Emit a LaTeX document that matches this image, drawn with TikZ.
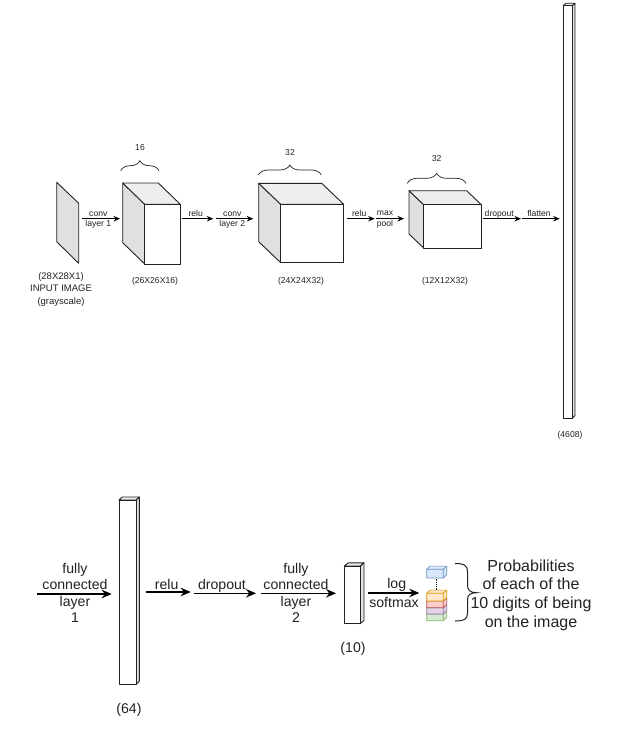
\documentclass[tikz,border=0pt]{standalone}
\usepackage{fontspec}
\setmainfont{Liberation Sans}
\usetikzlibrary{arrows.meta,decorations.pathreplacing}
\definecolor{sidegray}{HTML}{E0E0E0}
\definecolor{topgray}{HTML}{EEEEEE}
\definecolor{inkgray}{HTML}{222222}
\tikzset{
	smalllabel/.style={inner sep=0, align=center, text=inkgray, font=\fontsize{8.6}{10.5}\selectfont},
	inputlabel/.style={inner sep=0, align=center, text=inkgray, font=\fontsize{9.5}{12.5}\selectfont},
	biglabel/.style={inner sep=0, align=center, text=inkgray, font=\fontsize{14.1}{16}\selectfont},
	problabel/.style={inner sep=0, align=center, text=inkgray, font=\fontsize{16}{18.6}\selectfont},
	smallflow/.style={line width=0.9pt, -{Stealth[length=6.5pt,width=5.5pt]}},
	bigflow/.style={line width=1.3pt, -{Stealth[length=10pt,width=8.5pt]}},
	widthbrace/.style={line width=0.7pt, color=inkgray, decorate, decoration={brace,amplitude=10pt}},
	edge/.style={line width=0.9pt, line join=round, color=inkgray}
}
% front face top left (#1,#2), bottom right (#3,#4), back offset up left (#5,#6)
\def\layercube(#1,#2)(#3,#4)(#5,#6){
	\draw[edge, fill=sidegray] (#1,#2) -- (#1+#5,#2+#6) -- (#1+#5,#4+#6) -- (#1,#4) -- cycle;
	\draw[edge, fill=topgray] (#1,#2) -- (#1+#5,#2+#6) -- (#3+#5,#2+#6) -- (#3,#2) -- cycle;
	\draw[edge, fill=white] (#1,#2) rectangle (#3,#4);
}
% same for a bar, back offset up right
\def\layerbar(#1,#2)(#3,#4)(#5,#6){
	\draw[edge, fill=sidegray] (#3,#2) -- (#3+#5,#2+#6) -- (#3+#5,#4+#6) -- (#3,#4) -- cycle;
	\draw[edge, fill=topgray] (#1,#2) -- (#1+#5,#2+#6) -- (#3+#5,#2+#6) -- (#3,#2) -- cycle;
	\draw[edge, fill=white] (#1,#2) rectangle (#3,#4);
}
% one block of the softmax stack
\def\stackblock(#1,#2)#3#4{
	\draw[line width=0.7pt, line join=round, draw=#4, fill=#3] (426.7,#1) -- (430,#1-3.2) -- (446.7,#1-3.2) -- (446.7,#2-3.2) -- (443.3,#2) -- (426.7,#2) -- cycle;
	\draw[line width=0.7pt, draw=#4] (426.7,#1) -- (443.3,#1) -- (443.3,#2) (443.3,#1) -- (446.7,#1-3.2);
}
\definecolor{blockblue}{HTML}{DAE8FC}
\definecolor{lineblue}{HTML}{6C8EBF}
\definecolor{blockgreen}{HTML}{D5E8D4}
\definecolor{linegreen}{HTML}{82B366}
\definecolor{blockviolet}{HTML}{E1D5E7}
\definecolor{lineviolet}{HTML}{9673A6}
\definecolor{blockred}{HTML}{F8CECC}
\definecolor{linered}{HTML}{B85450}
\definecolor{blockorange}{HTML}{FFE6CC}
\definecolor{lineorange}{HTML}{D79B00}

\begin{document}
\begin{tikzpicture}[x=1pt, y=-1pt]
	\useasboundingbox (0,0) rectangle (626,733);
	\fill[white] (0,0) rectangle (626,733);

	%%%%% first row %%%%%
	\draw[edge, fill=sidegray] (56.7,182.3) -- (78.7,203.3) -- (78.7,263.3) -- (56.7,241.7) -- cycle;
	\layercube(144.7,204.3)(180.3,264)(-22,-21.3)
	\layercube(280.7,204.3)(343.7,262.7)(-22,-21)
	\layercube(423.7,204.7)(481.3,248)(-14.7,-14)
	\layerbar(563.3,5.7)(572.3,418)(2.7,-2.4)

	\draw[widthbrace] (120.7,170.7) -- (159,170.7);
	\draw[widthbrace] (258.3,175) -- (321.3,175);
	\draw[widthbrace] (407.3,183.3) -- (466,183.3);
	\node[smalllabel] (width1) at (140,148) {16};
	\node[smalllabel] (width2) at (290,152.3) {32};
	\node[smalllabel] (width3) at (436.7,159) {32};

	\coordinate (conv1a) at (81.7,218.7);
	\coordinate (conv1b) at (120,218.7);
	\coordinate (relu1a) at (182.3,218.7);
	\coordinate (relu1b) at (213.3,218.7);
	\coordinate (conv2a) at (215.7,218.7);
	\coordinate (conv2b) at (253.3,218.7);
	\coordinate (relu2a) at (347.3,218.7);
	\coordinate (relu2b) at (374.7,218.7);
	\coordinate (poola) at (376,218.7);
	\coordinate (poolb) at (404,218.7);
	\coordinate (drop1a) at (483,218.7);
	\coordinate (drop1b) at (521,218.7);
	\coordinate (flata) at (522.3,218.7);
	\coordinate (flatb) at (559.7,218.7);
	\draw[smallflow] (conv1a) -- (conv1b);
	\draw[smallflow] (relu1a) -- (relu1b);
	\draw[smallflow] (conv2a) -- (conv2b);
	\draw[smallflow] (relu2a) -- (relu2b);
	\draw[smallflow] (poola) -- (poolb);
	\draw[smallflow] (drop1a) -- (drop1b);
	\draw[smallflow] (flata) -- (flatb);

	\node[smalllabel] (conv1t) at (98.3,214) {conv};
	\node[smalllabel] (conv1u) at (98.3,224) {layer 1};
	\node[smalllabel] (relu1t) at (195.7,213.3) {relu};
	\node[smalllabel] (conv2t) at (232.3,214) {conv};
	\node[smalllabel] (conv2u) at (232.3,224) {layer 2};
	\node[smalllabel] (relu2t) at (359.3,213.5) {relu};
	\node[smalllabel] (poolt) at (385,213.3) {max};
	\node[smalllabel] (poolu) at (385,224) {pool};
	\node[smalllabel] (drop1t) at (499.3,214) {dropout};
	\node[smalllabel] (flatt) at (539,213.3) {flatten};

	\node[inputlabel] (inputtext) at (61,289.5) {(28X28X1)\\INPUT IMAGE\\(grayscale)};
	\node[smalllabel] (cube1size) at (155,281) {(26X26X16)};
	\node[smalllabel] (cube2size) at (301,281) {(24X24X32)};
	\node[smalllabel] (cube3size) at (445,281) {(12X12X32)};
	\node[smalllabel] (flatsize) at (570,435.5) {(4608)};

	%%%%% second row %%%%%
	\layerbar(119,500)(136,684.3)(3.3,-3)
	\layerbar(344.3,566)(360,623.7)(4,-3.2)

	\coordinate (fc1a) at (37.3,594);
	\coordinate (fc1b) at (111.7,594);
	\coordinate (relu3a) at (146,592);
	\coordinate (relu3b) at (190.7,592);
	\coordinate (drop2a) at (194.3,593.3);
	\coordinate (drop2b) at (256,593.3);
	\coordinate (fc2a) at (261,593.3);
	\coordinate (fc2b) at (336,593.3);
	\coordinate (softa) at (368.3,593);
	\coordinate (softb) at (419.3,593);
	\draw[bigflow] (fc1a) -- (fc1b);
	\draw[bigflow] (relu3a) -- (relu3b);
	\draw[bigflow] (drop2a) -- (drop2b);
	\draw[bigflow] (fc2a) -- (fc2b);
	\draw[bigflow] (softa) -- (softb);

	\node[biglabel] (fc1t) at (75,576) {fully\\connected};
	\node[biglabel] (fc1u) at (75,609.5) {layer\\1};
	\node[biglabel] (relu3t) at (166.7,584) {relu};
	\node[biglabel] (drop2t) at (222,585.5) {dropout};
	\node[biglabel] (fc2t) at (296,576) {fully\\connected};
	\node[biglabel] (fc2u) at (296,609.5) {layer\\2};
	\node[biglabel] (softt) at (396.7,585) {log};
	\node[biglabel] (softu) at (394,602.5) {softmax};
	\node[biglabel] (bar1size) at (129,710) {(64)};
	\node[biglabel] (bar2size) at (353,649) {(10)};

	\stackblock(569.3,578){blockblue}{lineblue}
	\draw[line width=0.8pt, densely dotted, color=inkgray] (436,578.5) -- (436,589.5);
	\stackblock(614,620.7){blockgreen}{linegreen}
	\stackblock(607.7,614){blockviolet}{lineviolet}
	\stackblock(601,607.7){blockred}{linered}
	\stackblock(593.3,601){blockorange}{lineorange}

	\draw[line width=1pt, color=inkgray] (455,563.5) .. controls (464,563.5) and (467.5,565) .. (467.5,572) -- (467.5,585) .. controls (467.5,590) and (470,592.7) .. (476.7,592.7) .. controls (470,592.7) and (467.5,595) .. (467.5,600) -- (467.5,613) .. controls (467.5,619.5) and (464,621) .. (455,621);
	\node[problabel] (probtext) at (531,595) {Probabilities\\of each of the\\10 digits of being\\on the image};
\end{tikzpicture}
\end{document}
